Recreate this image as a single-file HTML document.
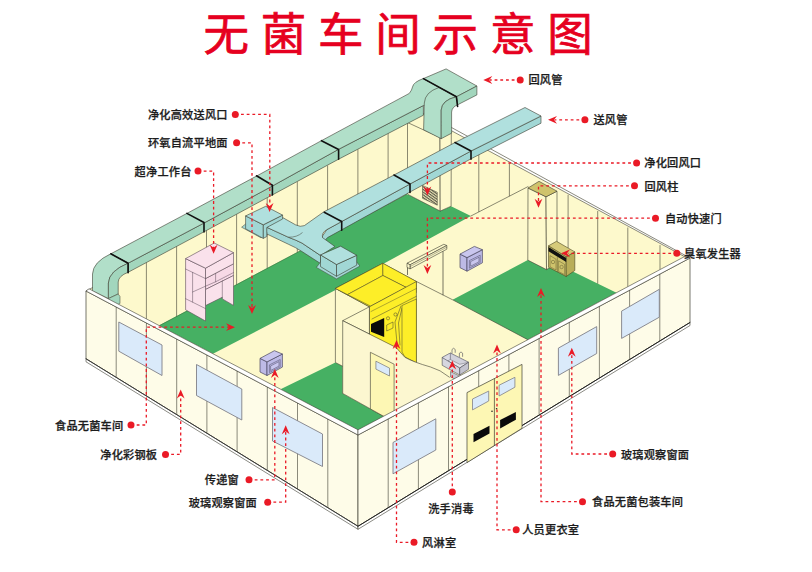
<!DOCTYPE html>
<html lang="zh-CN">
<head>
<meta charset="utf-8">
<title>无菌车间示意图</title>
<style>
html,body{margin:0;padding:0;background:#ffffff;}
body{width:812px;height:572px;overflow:hidden;}
svg{display:block;}
.lb{font-family:"Liberation Sans","Noto Sans CJK SC",sans-serif;font-size:11.2px;font-weight:500;fill:#1c1c1c;stroke:#1c1c1c;stroke-width:0.25px;letter-spacing:0.2px;}
.tt{font-family:"Liberation Sans","Noto Sans CJK SC",sans-serif;font-size:45.5px;font-weight:400;fill:#e60020;stroke:#e60020;stroke-width:0.7px;letter-spacing:11.8px;}
</style>
</head>
<body>
<svg width="812" height="572" viewBox="0 0 812 572">
<rect width="812" height="572" fill="#ffffff"/>
<text x="203.4" y="50.5" class="tt">无菌车间示意图</text>
<polygon points="86.0,291.0 425.0,113.0 690.0,258.0 358.0,435.0" fill="#fdf9cc" stroke="none" stroke-width="0.7" stroke-linejoin="round" />
<polygon points="425.0,113.0 690.0,258.0 684.5,256.6 427.0,117.5" fill="#ffffff" stroke="#3c3c30" stroke-width="0.6" stroke-linejoin="round" />
<polyline points="86.0,291.0 425.0,113.0" fill="none" stroke="#3c3c30" stroke-width="0.6" stroke-linejoin="round" stroke-linecap="round" />
<polygon points="158.8,325.4 406.7,194.3 409.6,195.3 440.2,211.1 451.1,206.2 470.9,216.0 335.5,290.0 213.0,353.8" fill="#46b063" stroke="none" stroke-width="0.7" stroke-linejoin="round" />
<polygon points="280.5,389.2 335.4,362.5 342.7,366.0 342.7,393.4 386.0,417.6 358.0,431.8" fill="#46b063" stroke="none" stroke-width="0.7" stroke-linejoin="round" />
<polygon points="452.6,299.8 527.8,260.1 546.5,269.6 552.0,266.0 574.4,272.2 616.5,292.7 527.8,339.7" fill="#46b063" stroke="none" stroke-width="0.7" stroke-linejoin="round" />
<line x1="146.4" y1="262.5" x2="146.4" y2="318.9" stroke="#3c3c30" stroke-width="0.6"/>
<line x1="176.6" y1="246.3" x2="176.6" y2="316.5" stroke="#3c3c30" stroke-width="0.6"/>
<line x1="206.5" y1="230.3" x2="206.5" y2="300.7" stroke="#3c3c30" stroke-width="0.6"/>
<line x1="236.6" y1="214.2" x2="236.6" y2="284.7" stroke="#3c3c30" stroke-width="0.6"/>
<line x1="267.2" y1="197.8" x2="267.2" y2="268.4" stroke="#3c3c30" stroke-width="0.6"/>
<line x1="297.3" y1="181.7" x2="297.3" y2="252.4" stroke="#3c3c30" stroke-width="0.6"/>
<line x1="327.6" y1="165.5" x2="327.6" y2="236.3" stroke="#3c3c30" stroke-width="0.6"/>
<line x1="357.9" y1="149.3" x2="357.9" y2="220.2" stroke="#3c3c30" stroke-width="0.6"/>
<line x1="388.1" y1="133.1" x2="388.1" y2="204.2" stroke="#3c3c30" stroke-width="0.6"/>
<polyline points="158.8,326.0 406.7,194.3" fill="none" stroke="#3d6b3a" stroke-width="0.5" stroke-linejoin="round" stroke-linecap="round" />
<polyline points="470.9,216.0 528.0,186.6" fill="none" stroke="#3c3c30" stroke-width="0.6" stroke-linejoin="round" stroke-linecap="round" />
<line x1="478.8" y1="146.4" x2="478.8" y2="211.9" stroke="#3c3c30" stroke-width="0.6"/>
<line x1="509.4" y1="163.2" x2="509.4" y2="196.2" stroke="#3c3c30" stroke-width="0.6"/>
<line x1="597.7" y1="211.0" x2="597.7" y2="283.8" stroke="#3c3c30" stroke-width="0.6"/>
<line x1="627.8" y1="227.5" x2="627.8" y2="286.7" stroke="#3c3c30" stroke-width="0.6"/>
<line x1="660.0" y1="245.1" x2="660.0" y2="269.6" stroke="#3c3c30" stroke-width="0.6"/>
<line x1="568.1" y1="194.8" x2="568.1" y2="248.0" stroke="#3c3c30" stroke-width="0.6"/>
<polygon points="407.5,122.5 440.0,137.5 440.2,211.1 409.6,195.3 407.5,194.0" fill="#fdf9cc" stroke="#3c3c30" stroke-width="0.6" stroke-linejoin="round" />
<polygon points="440.0,137.5 451.3,132.5 451.1,206.2 440.2,211.1" fill="#fdf9cc" stroke="#3c3c30" stroke-width="0.6" stroke-linejoin="round" />
<defs><pattern id="hatch" width="2.2" height="2.2" patternUnits="userSpaceOnUse" patternTransform="rotate(35)"><rect width="2.2" height="2.2" fill="#e9e2b4"/><rect width="2.2" height="1.1" fill="#5a5a4a"/></pattern></defs>
<polygon points="422.5,185.4 437.3,192.3 437.3,205.2 422.5,198.3" fill="url(#hatch)" stroke="#3c3c30" stroke-width="0.5" stroke-linejoin="round" />
<polygon points="528.0,188.0 546.0,196.8 546.5,269.6 527.8,260.1" fill="#fdf9cc" stroke="#3c3c30" stroke-width="0.6" stroke-linejoin="round" />
<polygon points="546.0,196.8 557.0,191.2 557.0,263.0 546.5,269.6" fill="#fdf9cc" stroke="#3c3c30" stroke-width="0.6" stroke-linejoin="round" />
<polygon points="528.0,188.0 539.0,181.3 557.0,191.2 546.0,196.8" fill="#cfc36c" stroke="#3c3c30" stroke-width="0.6" stroke-linejoin="round" />
<polygon points="548.5,245.8 566.2,256.7 566.2,276.5 548.5,267.3" fill="#cfc36c" stroke="#4a4420" stroke-width="0.6" stroke-linejoin="round" />
<polygon points="566.2,256.7 574.8,251.9 574.8,270.5 566.2,276.5" fill="#b9ad58" stroke="#4a4420" stroke-width="0.6" stroke-linejoin="round" />
<polygon points="548.5,245.8 556.5,241.3 574.8,251.9 566.2,256.7" fill="#d6cb7a" stroke="#4a4420" stroke-width="0.6" stroke-linejoin="round" />
<polygon points="548.5,247.0 566.2,257.9 566.2,262.0 548.5,251.3" fill="#111111" stroke="none" stroke-width="0.7" stroke-linejoin="round" />
<line x1="557.3" y1="257.2" x2="557.3" y2="272.0" stroke="#4a4420" stroke-width="0.5"/>
<polygon points="550.0,255.6 556.0,259.2 556.0,270.0 550.0,266.8" fill="none" stroke="#4a4420" stroke-width="0.4" stroke-linejoin="round" />
<polygon points="558.6,260.8 564.6,264.4 564.6,274.6 558.6,271.6" fill="none" stroke="#4a4420" stroke-width="0.4" stroke-linejoin="round" />
<circle cx="553" cy="262" r="1.7" fill="none" stroke="#4a4420" stroke-width="0.4"/>
<circle cx="561.6" cy="267" r="1.7" fill="none" stroke="#4a4420" stroke-width="0.4"/>
<polygon points="460.0,254.1 467.0,257.6 467.0,271.2 460.0,267.7" fill="#bdbae6" stroke="#47455e" stroke-width="0.7" stroke-linejoin="round" />
<polygon points="467.0,257.6 482.4,249.7 482.4,262.8 467.0,271.2" fill="#bdbae6" stroke="#47455e" stroke-width="0.7" stroke-linejoin="round" />
<polygon points="460.0,254.1 474.4,246.4 482.4,249.7 467.0,257.6" fill="#c9c6ee" stroke="#47455e" stroke-width="0.7" stroke-linejoin="round" />
<polygon points="469.4,260.6 480.2,255.2 480.2,262.6 469.4,268.2" fill="#bdbae6" stroke="#47455e" stroke-width="0.5" stroke-linejoin="round" />
<polygon points="470.6,261.6 479.0,257.3 479.0,261.8 470.6,266.2" fill="#c9c6ee" stroke="#47455e" stroke-width="0.5" stroke-linejoin="round" />
<polygon points="407.0,263.2 443.8,244.3 446.8,245.5 410.0,264.8" fill="#fdf9cc" stroke="#3c3c30" stroke-width="0.6" stroke-linejoin="round" />
<polygon points="410.0,264.8 446.8,245.5 446.8,249.2 410.0,268.9" fill="#fdf9cc" stroke="#3c3c30" stroke-width="0.6" stroke-linejoin="round" />
<polygon points="407.0,263.2 410.0,264.8 410.0,268.9 407.0,267.4" fill="#fdf9cc" stroke="#3c3c30" stroke-width="0.6" stroke-linejoin="round" />
<polyline points="410.0,266.6 446.8,247.2" fill="none" stroke="#3c3c30" stroke-width="0.4" stroke-linejoin="round" stroke-linecap="round" />
<line x1="443.0" y1="251.3" x2="443.0" y2="295.2" stroke="#3c3c30" stroke-width="0.7"/>
<line x1="407.5" y1="267.6" x2="407.5" y2="275.0" stroke="#3c3c30" stroke-width="0.7"/>
<polygon points="541.0,116.0 471.0,151.0 410.0,184.0 341.7,221.5 326.9,229.6 322.5,236.0 322.5,243.0 327.5,237.6 341.7,229.8 410.0,192.0 471.0,158.8 541.0,123.2" fill="#a1d7d5" stroke="#3c3c30" stroke-width="0.6" stroke-linejoin="round" />
<path d="M266.5,227.2 L288.3,237.2 Q296,240 301.9,243 L320.5,255.5 L320.5,263.5 L301.9,251.5 Q296,247.5 288.3,244.2 L266.5,233.8 Z" fill="#a1d7d5" stroke="#3c3c30" stroke-width="0.6" stroke-linejoin="round" />
<path d="M282.6,217.5 L295.5,224.8 Q300.5,227.4 304.4,225.6 L323.7,211.9 L394,175 L455,142.5 L525,107.5 L541,116 L471,151 L410,184 L341.7,221.5 L326.9,229.6 Q321.5,232.5 322.5,237.6 L334.9,246.5 L320.5,255.5 L301.9,243 Q296,240 288.3,237.2 L266.5,227.2 Z" fill="#b0e0de" stroke="#3c3c30" stroke-width="0.6" stroke-linejoin="round" />
<path d="M288.3,237.2 Q297,237.5 302.5,232.5" fill="none" stroke="#3c3c30" stroke-width="0.5" stroke-linejoin="round" />
<polygon points="241.6,227.2 261.0,237.8 266.8,235.2 266.8,232.0 245.6,224.0" fill="#a1d7d5" stroke="#3c3c30" stroke-width="0.5" stroke-linejoin="round" />
<polygon points="245.6,215.9 263.3,224.8 263.3,238.4 245.6,228.8" fill="#a1d7d5" stroke="#3c3c30" stroke-width="0.6" stroke-linejoin="round" />
<polygon points="263.3,224.8 282.6,215.1 282.6,219.0 266.8,227.5 266.8,236.5 263.3,238.4" fill="#a1d7d5" stroke="#3c3c30" stroke-width="0.6" stroke-linejoin="round" />
<polygon points="245.6,215.9 265.7,206.3 282.6,215.1 263.3,224.8" fill="#b0e0de" stroke="#3c3c30" stroke-width="0.6" stroke-linejoin="round" />
<polygon points="316.4,267.4 336.5,278.9 359.9,266.0 356.7,262.0 320.5,262.0" fill="#a1d7d5" stroke="#3c3c30" stroke-width="0.5" stroke-linejoin="round" />
<polygon points="320.5,254.9 336.5,264.5 336.5,276.3 320.5,266.6" fill="#a1d7d5" stroke="#3c3c30" stroke-width="0.6" stroke-linejoin="round" />
<polygon points="336.5,264.5 356.7,255.3 356.7,265.2 336.5,276.3" fill="#a1d7d5" stroke="#3c3c30" stroke-width="0.6" stroke-linejoin="round" />
<polygon points="320.5,254.9 340.6,246.2 356.7,255.3 336.5,264.5" fill="#b0e0de" stroke="#3c3c30" stroke-width="0.6" stroke-linejoin="round" />
<polyline points="324.2,212.3 341.7,221.5 341.7,230.2" fill="none" stroke="#111111" stroke-width="1.6" stroke-linejoin="round" stroke-linecap="round" />
<polyline points="394.0,175.0 410.0,184.0 410.0,192.4" fill="none" stroke="#111111" stroke-width="1.6" stroke-linejoin="round" stroke-linecap="round" />
<polyline points="455.0,142.5 471.0,151.0 471.0,159.2" fill="none" stroke="#111111" stroke-width="1.6" stroke-linejoin="round" stroke-linecap="round" />
<polygon points="128.1,263.2 204.0,223.0 272.4,186.0 338.6,149.3 423.4,105.5 423.4,115.2 338.6,159.2 272.4,194.9 204.0,231.8 128.1,272.3" fill="#a2d6bd" stroke="#3c3c30" stroke-width="0.6" stroke-linejoin="round" />
<path d="M110.8,253.8 L187.3,213.2 L256.3,176.2 L321.4,140.7 L409.3,93.4 Q412,90 412.5,87 Q413.5,82 423.4,78.6 L456.4,96.8 L441,105 L423.4,105.5 L338.6,149.3 L272.4,186 L204,223 L128.1,263.2 Z" fill="#b1dfc9" stroke="#3c3c30" stroke-width="0.6" stroke-linejoin="round" />
<polygon points="423.4,78.6 446.1,68.9 476.9,86.0 456.4,96.8" fill="#b1dfc9" stroke="#3c3c30" stroke-width="0.6" stroke-linejoin="round" />
<polygon points="456.4,96.8 476.9,86.0 476.9,94.9 457.6,104.8" fill="#a2d6bd" stroke="#3c3c30" stroke-width="0.6" stroke-linejoin="round" />
<path d="M439,87.5 Q425,92 424.3,103 L423.6,129.8 L441.2,138.7 L441.2,110 Q442,100 456.4,96.8 Z" fill="#b1dfc9" stroke="#3c3c30" stroke-width="0.6" stroke-linejoin="round" />
<path d="M441.2,138.7 L441.2,110 Q442,100 456.4,96.8 L457.6,104.8 Q452,107 451.6,112 L451.6,133.2 Z" fill="#a2d6bd" stroke="#3c3c30" stroke-width="0.6" stroke-linejoin="round" />
<polyline points="423.4,78.6 456.4,96.8 457.6,106.5" fill="none" stroke="#111111" stroke-width="1.6" stroke-linejoin="round" stroke-linecap="round" />
<path d="M110.8,253.8 Q93,262 92.5,274 L92.5,291 L108.4,298.6 L108.4,283 Q109,271 128.1,263.2 Z" fill="#b1dfc9" stroke="#3c3c30" stroke-width="0.6" stroke-linejoin="round" />
<path d="M108.4,298.6 L108.4,283 Q109,271 128.1,263.2 L128.1,272.3 Q118.5,276 118.2,282 L118.2,294 Z" fill="#a2d6bd" stroke="#3c3c30" stroke-width="0.6" stroke-linejoin="round" />
<polygon points="108.4,298.6 118.2,294.0 120.0,296.5 120.0,303.5 110.5,308.0" fill="#a2d6bd" stroke="#3c3c30" stroke-width="0.5" stroke-linejoin="round" />
<polyline points="110.8,253.8 128.1,263.2 128.1,272.8" fill="none" stroke="#111111" stroke-width="1.6" stroke-linejoin="round" stroke-linecap="round" />
<polyline points="186.9,213.4 204.0,222.5 204.0,232.0" fill="none" stroke="#111111" stroke-width="1.6" stroke-linejoin="round" stroke-linecap="round" />
<polyline points="256.5,175.8 272.4,185.2 272.4,195.0" fill="none" stroke="#111111" stroke-width="1.6" stroke-linejoin="round" stroke-linecap="round" />
<polyline points="321.5,140.7 338.6,149.5 338.6,159.3" fill="none" stroke="#111111" stroke-width="1.6" stroke-linejoin="round" stroke-linecap="round" />
<polygon points="205.5,278.6 233.5,263.8 233.5,275.5 205.5,289.5" fill="#f7d9e6" stroke="#5a4a58" stroke-width="0.5" stroke-linejoin="round" />
<polyline points="215.6,273.4 215.6,281.8" fill="none" stroke="#5a4a58" stroke-width="0.5" stroke-linejoin="round" stroke-linecap="round" />
<polyline points="205.5,286.2 215.6,281.8 233.5,272.6" fill="none" stroke="#5a4a58" stroke-width="0.5" stroke-linejoin="round" stroke-linecap="round" />
<polygon points="205.5,289.5 233.5,275.5 233.5,305.4 222.3,298.9 222.3,297.2 205.5,305.6" fill="#fae1eb" stroke="#5a4a58" stroke-width="0.6" stroke-linejoin="round" />
<polyline points="222.3,281.0 222.3,297.2" fill="none" stroke="#5a4a58" stroke-width="0.5" stroke-linejoin="round" stroke-linecap="round" />
<polygon points="185.6,258.6 205.5,268.2 205.5,321.0 185.6,309.8" fill="#fae1eb" stroke="#5a4a58" stroke-width="0.6" stroke-linejoin="round" />
<polygon points="205.5,268.2 233.5,252.6 233.5,263.8 205.5,278.6" fill="#fae1eb" stroke="#5a4a58" stroke-width="0.6" stroke-linejoin="round" />
<polygon points="185.6,258.6 214.2,243.0 233.5,252.6 205.5,268.2" fill="#fae1eb" stroke="#5a4a58" stroke-width="0.6" stroke-linejoin="round" />
<polyline points="185.6,269.0 205.5,278.6" fill="none" stroke="#5a4a58" stroke-width="0.5" stroke-linejoin="round" stroke-linecap="round" />
<polyline points="185.6,298.7 205.5,308.6" fill="none" stroke="#5a4a58" stroke-width="0.5" stroke-linejoin="round" stroke-linecap="round" />
<polyline points="192.6,272.4 192.6,302.0" fill="none" stroke="#5a4a58" stroke-width="0.5" stroke-linejoin="round" stroke-linecap="round" />
<polyline points="192.6,292.0 205.5,286.2" fill="none" stroke="#5a4a58" stroke-width="0.5" stroke-linejoin="round" stroke-linecap="round" />
<polyline points="416.4,281.5 452.6,299.8 527.8,339.7" fill="none" stroke="#3c3c30" stroke-width="0.6" stroke-linejoin="round" stroke-linecap="round" />
<polygon points="335.4,288.4 369.4,306.8 369.4,380.0 335.4,362.5" fill="#fdf9cc" stroke="#3c3c30" stroke-width="0.6" stroke-linejoin="round" />
<polygon points="335.4,288.4 382.8,263.3 416.4,281.5 369.4,306.8" fill="#fdee28" stroke="#3c3c30" stroke-width="0.6" stroke-linejoin="round" />
<polygon points="335.4,288.4 382.8,263.3 382.9,275.5 347.5,294.6" fill="#fdee28" stroke="#3c3c30" stroke-width="0.5" stroke-linejoin="round" />
<polygon points="382.8,263.3 416.4,281.5 416.4,292.5 382.9,275.5" fill="#fdee28" stroke="#3c3c30" stroke-width="0.5" stroke-linejoin="round" />
<polygon points="347.5,294.6 382.9,275.5 406.2,287.4 370.7,306.2" fill="#fdee28" stroke="#3c3c30" stroke-width="0.5" stroke-linejoin="round" />
<polygon points="369.4,306.8 416.4,281.5 416.4,362.0 369.4,345.0" fill="#fdee28" stroke="#3c3c30" stroke-width="0.6" stroke-linejoin="round" />
<polyline points="372.0,319.0 416.4,296.3" fill="none" stroke="#3c3c30" stroke-width="0.5" stroke-linejoin="round" stroke-linecap="round" />
<polyline points="371.0,311.5 416.4,288.5" fill="none" stroke="#3c3c30" stroke-width="0.4" stroke-linejoin="round" stroke-linecap="round" />
<polygon points="371.0,324.0 384.2,318.0 384.2,337.0 371.0,331.8" fill="#0a0a0a" stroke="none" stroke-width="0.7" stroke-linejoin="round" />
<circle cx="388" cy="318.3" r="1.6" fill="none" stroke="#3c3c30" stroke-width="0.5"/>
<circle cx="395.5" cy="314.5" r="1.6" fill="none" stroke="#3c3c30" stroke-width="0.5"/>
<polygon points="386.7,325.0 393.0,322.0 393.0,328.0 386.7,331.0" fill="none" stroke="#3c3c30" stroke-width="0.5" stroke-linejoin="round" />
<polyline points="401.0,306.0 395.0,322.0 397.0,343.0" fill="none" stroke="#3c3c30" stroke-width="0.5" stroke-linejoin="round" stroke-linecap="round" />
<polyline points="402.0,308.0 398.5,323.0 400.0,345.0" fill="none" stroke="#3c3c30" stroke-width="0.5" stroke-linejoin="round" stroke-linecap="round" />
<polygon points="402.0,305.5 416.4,299.0 416.4,362.8 405.0,357.0 402.0,352.0" fill="#fdee28" stroke="#3c3c30" stroke-width="0.5" stroke-linejoin="round" />
<polygon points="342.7,320.7 369.4,306.8 369.4,334.0" fill="#fdf9cc" stroke="#3c3c30" stroke-width="0.6" stroke-linejoin="round" />
<path d="M342.7,320.7 L396,347.4 Q401,353 404.9,357.3 Q413,362 430.6,367 Q440,369.5 449.7,377.2 L449.7,384 L386,417.6 L342.7,393.4 Z" fill="#fcf7d0" stroke="none" stroke-width="0.7" stroke-linejoin="round" />
<path d="M342.7,393.4 L342.7,320.7 L396,347.4 Q401,353 404.9,357.3 Q413,362 430.6,367 Q440,369.5 449.7,377.4" fill="none" stroke="#3c3c30" stroke-width="0.6" stroke-linejoin="round" />
<polyline points="342.7,393.4 386.0,417.6" fill="none" stroke="#3c3c30" stroke-width="0.6" stroke-linejoin="round" stroke-linecap="round" />
<polygon points="370.4,352.3 394.1,364.2 394.1,422.1 370.4,408.9" fill="#fdf7b4" stroke="#3c3c30" stroke-width="0.6" stroke-linejoin="round" />
<polygon points="375.9,361.2 389.5,368.1 389.5,376.0 375.9,369.1" fill="#daeafa" stroke="#777777" stroke-width="0.7" stroke-linejoin="round" />
<polygon points="260.0,358.4 267.0,361.9 267.0,375.5 260.0,372.0" fill="#bdbae6" stroke="#47455e" stroke-width="0.7" stroke-linejoin="round" />
<polygon points="267.0,361.9 282.4,354.0 282.4,367.1 267.0,375.5" fill="#bdbae6" stroke="#47455e" stroke-width="0.7" stroke-linejoin="round" />
<polygon points="260.0,358.4 274.4,350.7 282.4,354.0 267.0,361.9" fill="#c9c6ee" stroke="#47455e" stroke-width="0.7" stroke-linejoin="round" />
<polygon points="269.4,364.9 280.2,359.5 280.2,366.9 269.4,372.5" fill="#bdbae6" stroke="#47455e" stroke-width="0.5" stroke-linejoin="round" />
<polygon points="270.6,365.9 279.0,361.6 279.0,366.1 270.6,370.5" fill="#c9c6ee" stroke="#47455e" stroke-width="0.5" stroke-linejoin="round" />
<polygon points="450.5,371.5 459.7,376.2 459.7,381.0 450.5,377.0" fill="#c9c9d3" stroke="#4a4a55" stroke-width="0.5" stroke-linejoin="round" />
<polygon points="442.2,357.5 450.3,353.1 468.5,362.3 459.7,368.0" fill="#e4e4ea" stroke="#4a4a55" stroke-width="0.6" stroke-linejoin="round" />
<polygon points="450.3,353.1 450.3,359.5 459.7,364.3 468.5,362.3" fill="#d2d2db" stroke="#4a4a55" stroke-width="0.4" stroke-linejoin="round" />
<polygon points="442.2,357.5 450.3,353.1 450.3,359.5 446.0,361.8" fill="#dcdce4" stroke="#4a4a55" stroke-width="0.4" stroke-linejoin="round" />
<polygon points="442.2,357.5 459.7,368.0 459.7,375.0 442.2,365.3" fill="#d6d6df" stroke="#4a4a55" stroke-width="0.6" stroke-linejoin="round" />
<polygon points="459.7,368.0 468.5,362.3 468.5,369.3 459.7,375.0" fill="#c4c4cf" stroke="#4a4a55" stroke-width="0.6" stroke-linejoin="round" />
<path d="M452,353.4 L452,349.5 Q453.6,347 455.2,349.5 L455.2,352.8" fill="none" stroke="#4a4a55" stroke-width="0.6" stroke-linejoin="round" />
<path d="M459.4,357 L459.4,353.2 Q461,350.7 462.6,353.2 L462.6,356.8" fill="none" stroke="#4a4a55" stroke-width="0.6" stroke-linejoin="round" />
<polygon points="86.0,291.0 358.0,435.0 358.0,526.3 86.0,358.8" fill="#fefce8" stroke="#3c3c30" stroke-width="0.7" stroke-linejoin="round" />
<polygon points="86.0,358.8 358.0,526.3 358.0,529.3 86.0,361.8" fill="#ffffff" stroke="#3c3c30" stroke-width="0.6" stroke-linejoin="round" />
<polyline points="86.0,358.8 358.0,526.3" fill="none" stroke="#333333" stroke-width="0.9" stroke-linejoin="round" stroke-linecap="round" />
<polygon points="358.0,435.0 690.0,258.0 690.0,322.5 358.0,526.3" fill="#fefce8" stroke="#3c3c30" stroke-width="0.7" stroke-linejoin="round" />
<polygon points="358.0,526.3 690.0,322.5 690.0,325.5 358.0,529.3" fill="#ffffff" stroke="#3c3c30" stroke-width="0.6" stroke-linejoin="round" />
<polyline points="358.0,526.3 690.0,322.5" fill="none" stroke="#222222" stroke-width="1.0" stroke-linejoin="round" stroke-linecap="round" />
<polygon points="86.0,291.0 358.0,435.0 358.0,429.8 89.0,288.8" fill="#ffffff" stroke="#3c3c30" stroke-width="0.6" stroke-linejoin="round" />
<polygon points="358.0,435.0 690.0,258.0 684.5,256.6 358.0,429.8" fill="#ffffff" stroke="#3c3c30" stroke-width="0.6" stroke-linejoin="round" />
<line x1="116.2" y1="307.0" x2="116.2" y2="377.4" stroke="#3c3c30" stroke-width="0.6"/>
<line x1="146.4" y1="323.0" x2="146.4" y2="396.0" stroke="#3c3c30" stroke-width="0.6"/>
<line x1="176.7" y1="339.0" x2="176.7" y2="414.6" stroke="#3c3c30" stroke-width="0.6"/>
<line x1="206.9" y1="355.0" x2="206.9" y2="433.2" stroke="#3c3c30" stroke-width="0.6"/>
<line x1="237.1" y1="371.0" x2="237.1" y2="451.8" stroke="#3c3c30" stroke-width="0.6"/>
<line x1="267.3" y1="387.0" x2="267.3" y2="470.5" stroke="#3c3c30" stroke-width="0.6"/>
<line x1="297.5" y1="403.0" x2="297.5" y2="489.1" stroke="#3c3c30" stroke-width="0.6"/>
<line x1="327.8" y1="419.0" x2="327.8" y2="507.7" stroke="#3c3c30" stroke-width="0.6"/>
<line x1="388.2" y1="418.9" x2="388.2" y2="507.8" stroke="#3c3c30" stroke-width="0.6"/>
<line x1="418.4" y1="402.8" x2="418.4" y2="489.2" stroke="#3c3c30" stroke-width="0.6"/>
<line x1="448.5" y1="386.7" x2="448.5" y2="470.7" stroke="#3c3c30" stroke-width="0.6"/>
<line x1="478.7" y1="370.6" x2="478.7" y2="452.2" stroke="#3c3c30" stroke-width="0.6"/>
<line x1="508.9" y1="354.6" x2="508.9" y2="433.7" stroke="#3c3c30" stroke-width="0.6"/>
<line x1="539.1" y1="338.5" x2="539.1" y2="415.1" stroke="#3c3c30" stroke-width="0.6"/>
<line x1="569.3" y1="322.4" x2="569.3" y2="396.6" stroke="#3c3c30" stroke-width="0.6"/>
<line x1="599.4" y1="306.3" x2="599.4" y2="378.1" stroke="#3c3c30" stroke-width="0.6"/>
<line x1="629.6" y1="290.2" x2="629.6" y2="359.6" stroke="#3c3c30" stroke-width="0.6"/>
<line x1="659.8" y1="274.1" x2="659.8" y2="341.0" stroke="#3c3c30" stroke-width="0.6"/>
<polygon points="118.8,322.0 162.0,345.0 162.0,375.5 118.8,351.2" fill="#daeafa" stroke="#808088" stroke-width="0.9" stroke-linejoin="round" />
<polygon points="196.5,364.5 241.8,389.0 241.8,420.0 196.5,395.5" fill="#daeafa" stroke="#808088" stroke-width="0.9" stroke-linejoin="round" />
<polygon points="272.5,407.5 322.5,434.0 322.5,466.5 272.5,441.0" fill="#daeafa" stroke="#808088" stroke-width="0.9" stroke-linejoin="round" />
<polygon points="393.0,442.5 435.8,418.8 435.8,450.0 393.0,473.8" fill="#daeafa" stroke="#808088" stroke-width="0.9" stroke-linejoin="round" />
<polygon points="558.4,348.1 596.7,326.6 596.7,353.5 558.4,375.4" fill="#daeafa" stroke="#808088" stroke-width="0.9" stroke-linejoin="round" />
<polygon points="621.6,311.1 659.3,289.3 659.3,317.2 621.6,338.4" fill="#daeafa" stroke="#808088" stroke-width="0.9" stroke-linejoin="round" />
<polygon points="467.0,392.6 522.0,364.4 522.0,428.3 467.0,462.6" fill="#fdf7b4" stroke="#3c3c30" stroke-width="0.7" stroke-linejoin="round" />
<line x1="494.4" y1="378.6" x2="494.4" y2="445.5" stroke="#3c3c30" stroke-width="0.7"/>
<polygon points="472.5,399.0 488.7,391.1 488.7,401.0 472.5,409.9" fill="#daeafa" stroke="#808088" stroke-width="0.8" stroke-linejoin="round" />
<polygon points="499.1,385.2 514.9,377.3 514.9,387.2 499.1,396.0" fill="#daeafa" stroke="#808088" stroke-width="0.8" stroke-linejoin="round" />
<polygon points="473.5,434.0 489.5,425.8 489.5,433.5 473.5,442.2" fill="#0a0a0a" stroke="none" stroke-width="0.7" stroke-linejoin="round" />
<polygon points="500.1,420.0 515.9,412.0 515.9,419.8 500.1,428.4" fill="#0a0a0a" stroke="none" stroke-width="0.7" stroke-linejoin="round" />
<circle cx="492" cy="411.2" r="0.8" fill="#222"/><circle cx="496.6" cy="408.8" r="0.8" fill="#222"/>
<polyline points="235.3,114.4 269.8,114.4 269.8,205.0" fill="none" stroke="#ea1a26" stroke-width="1.3" stroke-dasharray="2.8 2.9"/>
<circle cx="235.3" cy="114.4" r="3.5" fill="#ea1a26"/>
<polygon points="269.6,212.0 265.7,203.0 269.6,206.0 273.5,203.0" fill="#ea1a26"/>
<polyline points="236.6,142.8 252.0,142.8 252.0,308.0" fill="none" stroke="#ea1a26" stroke-width="1.3" stroke-dasharray="2.8 2.9"/>
<circle cx="236.6" cy="142.8" r="3.5" fill="#ea1a26"/>
<polygon points="252.0,314.0 248.1,305.0 252.0,308.0 255.9,305.0" fill="#ea1a26"/>
<polyline points="198.0,171.1 213.6,171.1 213.6,248.0" fill="none" stroke="#ea1a26" stroke-width="1.3" stroke-dasharray="2.8 2.9"/>
<circle cx="198.0" cy="171.1" r="3.5" fill="#ea1a26"/>
<polygon points="213.6,253.8 209.7,244.8 213.6,247.8 217.5,244.8" fill="#ea1a26"/>
<polyline points="520.2,80.0 490.0,80.0" fill="none" stroke="#ea1a26" stroke-width="1.3" stroke-dasharray="2.8 2.9"/>
<circle cx="520.2" cy="80.0" r="3.5" fill="#ea1a26"/>
<polygon points="483.3,80.0 492.3,76.1 489.3,80.0 492.3,83.9" fill="#ea1a26"/>
<polyline points="584.9,119.8 554.5,119.8" fill="none" stroke="#ea1a26" stroke-width="1.3" stroke-dasharray="2.8 2.9"/>
<circle cx="584.9" cy="119.8" r="3.5" fill="#ea1a26"/>
<polygon points="548.0,119.8 557.0,115.9 554.0,119.8 557.0,123.7" fill="#ea1a26"/>
<polyline points="636.6,163.0 427.4,163.0 427.4,190.0" fill="none" stroke="#ea1a26" stroke-width="1.3" stroke-dasharray="2.8 2.9"/>
<circle cx="636.6" cy="163.0" r="3.5" fill="#ea1a26"/>
<polygon points="427.4,195.5 423.5,186.5 427.4,189.5 431.3,186.5" fill="#ea1a26"/>
<polyline points="634.5,185.8 538.5,185.8 538.5,202.0" fill="none" stroke="#ea1a26" stroke-width="1.3" stroke-dasharray="2.8 2.9"/>
<circle cx="634.5" cy="185.8" r="3.5" fill="#ea1a26"/>
<polygon points="538.5,207.8 534.6,198.8 538.5,201.8 542.4,198.8" fill="#ea1a26"/>
<polyline points="655.5,218.2 427.4,218.2 427.4,268.0" fill="none" stroke="#ea1a26" stroke-width="1.3" stroke-dasharray="2.8 2.9"/>
<circle cx="655.5" cy="218.2" r="3.5" fill="#ea1a26"/>
<polygon points="427.4,274.0 423.5,265.0 427.4,268.0 431.3,265.0" fill="#ea1a26"/>
<polyline points="676.8,253.3 568.0,253.3" fill="none" stroke="#ea1a26" stroke-width="1.3" stroke-dasharray="2.8 2.9"/>
<circle cx="676.8" cy="253.3" r="3.5" fill="#ea1a26"/>
<polygon points="561.0,253.3 570.0,249.4 567.0,253.3 570.0,257.2" fill="#ea1a26"/>
<polyline points="131.0,425.0 146.3,425.0 146.3,327.2 229.0,327.2" fill="none" stroke="#ea1a26" stroke-width="1.3" stroke-dasharray="2.8 2.9"/>
<circle cx="131.0" cy="425.0" r="3.5" fill="#ea1a26"/>
<polygon points="235.0,327.2 226.0,323.3 229.0,327.2 226.0,331.1" fill="#ea1a26"/>
<polyline points="165.5,454.4 180.7,454.4 180.7,395.0" fill="none" stroke="#ea1a26" stroke-width="1.3" stroke-dasharray="2.8 2.9"/>
<circle cx="165.5" cy="454.4" r="3.5" fill="#ea1a26"/>
<polygon points="180.7,389.5 176.8,398.5 180.7,395.5 184.6,398.5" fill="#ea1a26"/>
<polyline points="249.0,479.8 274.8,479.8 274.8,375.0" fill="none" stroke="#ea1a26" stroke-width="1.3" stroke-dasharray="2.8 2.9"/>
<circle cx="249.0" cy="479.8" r="3.5" fill="#ea1a26"/>
<polygon points="274.8,369.0 270.9,378.0 274.8,375.0 278.7,378.0" fill="#ea1a26"/>
<polyline points="267.7,502.2 285.7,502.2 285.7,431.0" fill="none" stroke="#ea1a26" stroke-width="1.3" stroke-dasharray="2.8 2.9"/>
<circle cx="267.7" cy="502.2" r="3.5" fill="#ea1a26"/>
<polygon points="285.7,425.2 281.8,434.2 285.7,431.2 289.6,434.2" fill="#ea1a26"/>
<polyline points="414.0,542.3 396.5,542.3 396.5,346.0" fill="none" stroke="#ea1a26" stroke-width="1.3" stroke-dasharray="2.8 2.9"/>
<circle cx="414.0" cy="542.3" r="3.5" fill="#ea1a26"/>
<polygon points="396.5,340.0 392.6,349.0 396.5,346.0 400.4,349.0" fill="#ea1a26"/>
<polyline points="452.3,492.0 452.3,366.5" fill="none" stroke="#ea1a26" stroke-width="1.3" stroke-dasharray="2.8 2.9"/>
<circle cx="452.3" cy="492.0" r="3.5" fill="#ea1a26"/>
<polygon points="452.3,360.5 448.4,369.5 452.3,366.5 456.2,369.5" fill="#ea1a26"/>
<polyline points="516.2,529.8 497.0,529.8 497.0,350.5" fill="none" stroke="#ea1a26" stroke-width="1.3" stroke-dasharray="2.8 2.9"/>
<circle cx="516.2" cy="529.8" r="3.5" fill="#ea1a26"/>
<polygon points="497.0,344.6 493.1,353.6 497.0,350.6 500.9,353.6" fill="#ea1a26"/>
<polyline points="582.5,501.7 541.0,501.7 541.0,294.0" fill="none" stroke="#ea1a26" stroke-width="1.3" stroke-dasharray="2.8 2.9"/>
<circle cx="582.5" cy="501.7" r="3.5" fill="#ea1a26"/>
<polygon points="541.0,288.0 537.1,297.0 541.0,294.0 544.9,297.0" fill="#ea1a26"/>
<polyline points="612.7,454.0 571.8,454.0 571.8,353.5" fill="none" stroke="#ea1a26" stroke-width="1.3" stroke-dasharray="2.8 2.9"/>
<circle cx="612.7" cy="454.0" r="3.5" fill="#ea1a26"/>
<polygon points="571.8,347.7 567.9,356.7 571.8,353.7 575.7,356.7" fill="#ea1a26"/>
<text x="187.8" y="118.9" text-anchor="middle" class="lb">净化高效送风口</text>
<text x="187.8" y="146.5" text-anchor="middle" class="lb">环氧自流平地面</text>
<text x="163.1" y="175.5" text-anchor="middle" class="lb">超净工作台</text>
<text x="545.5" y="84.3" text-anchor="middle" class="lb">回风管</text>
<text x="610.5" y="124.2" text-anchor="middle" class="lb">送风管</text>
<text x="672.8" y="167.0" text-anchor="middle" class="lb">净化回风口</text>
<text x="661.5" y="190.9" text-anchor="middle" class="lb">回风柱</text>
<text x="693.4" y="222.6" text-anchor="middle" class="lb">自动快速门</text>
<text x="712.5" y="257.7" text-anchor="middle" class="lb">臭氧发生器</text>
<text x="89.2" y="429.6" text-anchor="middle" class="lb">食品无菌车间</text>
<text x="128.8" y="458.8" text-anchor="middle" class="lb">净化彩钢板</text>
<text x="221.9" y="484.2" text-anchor="middle" class="lb">传递窗</text>
<text x="222.8" y="506.7" text-anchor="middle" class="lb">玻璃观察窗面</text>
<text x="439.2" y="546.7" text-anchor="middle" class="lb">风淋室</text>
<text x="451.0" y="512.9" text-anchor="middle" class="lb">洗手消毒</text>
<text x="550.7" y="534.4" text-anchor="middle" class="lb">人员更衣室</text>
<text x="637.6" y="506.1" text-anchor="middle" class="lb">食品无菌包装车间</text>
<text x="655.1" y="458.6" text-anchor="middle" class="lb">玻璃观察窗面</text>
</svg>
</body>
</html>
